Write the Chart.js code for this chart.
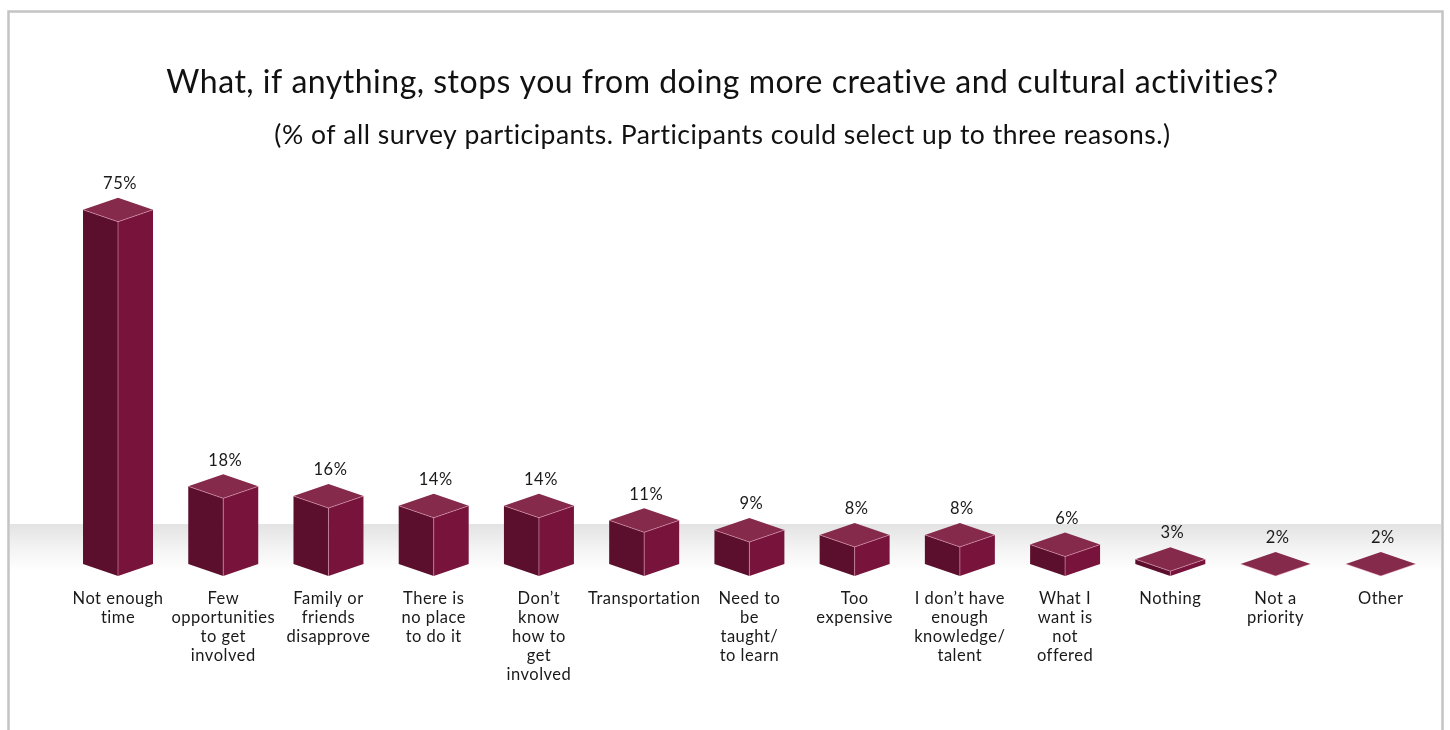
<!DOCTYPE html>
<html><head><meta charset="utf-8">
<script src="https://cdn.jsdelivr.net/npm/chart.js@4.4.1/dist/chart.umd.min.js"></script>
<style>html,body{margin:0;padding:0;background:#fff;overflow:hidden;}</style>
</head><body>
<canvas id="c" width="1450" height="730"></canvas>
<script>
const titleText = 'What, if anything, stops you from doing more creative and cultural activities?';
const subtitleText = '(% of all survey participants. Participants could select up to three reasons.)';
const categories = [
  ['Not enough', 'time'],
  ['Few', 'opportunities', 'to get', 'involved'],
  ['Family or', 'friends', 'disapprove'],
  ['There is', 'no place', 'to do it'],
  ['Don\u2019t', 'know', 'how to', 'get', 'involved'],
  ['Transportation'],
  ['Need to', 'be', 'taught/', 'to learn'],
  ['Too', 'expensive'],
  ['I don\u2019t have', 'enough', 'knowledge/', 'talent'],
  ['What I', 'want is', 'not', 'offered'],
  ['Nothing'],
  ['Not a', 'priority'],
  ['Other']
];
const values = [75, 18, 16, 14, 14, 11, 9, 8, 8, 6, 3, 2, 2];
const axisMin = 2;
const axisMax = 85;

const FONT = 'Lato, "Noto Sans", sans-serif';

function poly(ctx, pts, fill) {
  ctx.beginPath();
  ctx.moveTo(pts[0][0], pts[0][1]);
  for (let k = 1; k < pts.length; k++) ctx.lineTo(pts[k][0], pts[k][1]);
  ctx.closePath();
  ctx.fillStyle = fill;
  ctx.fill();
}

const deco = {
  id: 'deco',
  beforeDraw(chart) {
    const ctx = chart.ctx;
    try { ctx.letterSpacing = '0.5px'; } catch (e) {}
    ctx.save();
    ctx.fillStyle = '#ffffff';
    ctx.fillRect(0, 0, chart.width, chart.height);
    ctx.strokeStyle = '#c4c4c4';
    ctx.lineWidth = 2.5;
    ctx.beginPath();
    ctx.moveTo(8.5, 760);
    ctx.lineTo(8.5, 11.5);
    ctx.lineTo(1442.5, 11.5);
    ctx.lineTo(1442.5, 760);
    ctx.stroke();
    ctx.restore();
  },
  beforeDatasetsDraw(chart) {
    const ctx = chart.ctx;
    const yb = chart.scales.y.getPixelForValue(axisMin);
    const top = yb - 52, bot = yb - 4;
    ctx.save();
    const g = ctx.createLinearGradient(0, top, 0, bot);
    g.addColorStop(0, '#e3e3e3');
    g.addColorStop(0.5, '#f3f3f3');
    g.addColorStop(1, '#ffffff');
    ctx.fillStyle = g;
    ctx.fillRect(10, top, 1431, bot - top);
    ctx.restore();
  },
  afterDatasetsDraw(chart) {
    const ctx = chart.ctx;
    const meta = chart.getDatasetMeta(0);
    ctx.save();
    meta.data.forEach((el, i) => {
      const p = el.getProps(['x', 'y', 'base', 'width'], true);
      const x = p.x, y = p.y, b = p.base, hw = p.width / 2, d = hw * 0.343;
      poly(ctx, [[x - hw, y - d], [x, y], [x, b], [x - hw, b - d]], '#5b0f2d');
      poly(ctx, [[x, y], [x + hw, y - d], [x + hw, b - d], [x, b]], '#78133b');
      poly(ctx, [[x, y], [x - hw, y - d], [x, y - 2 * d], [x + hw, y - d]], '#852a4b');
      ctx.strokeStyle = 'rgba(255,190,215,0.45)';
      ctx.lineWidth = 1;
      ctx.beginPath();
      ctx.moveTo(x - hw, y - d); ctx.lineTo(x, y); ctx.lineTo(x + hw, y - d);
      if (b - y > 1) { ctx.moveTo(x, y); ctx.lineTo(x, b); }
      ctx.stroke();
      ctx.fillStyle = '#1a1a1a';
      ctx.font = '16.5px ' + FONT;
      ctx.textAlign = 'center';
      ctx.textBaseline = 'middle';
      ctx.fillText(values[i] + '%', x + 2, y - 2 * d - 14);
    });
    ctx.restore();
  }
};

new Chart(document.getElementById('c'), {
  type: 'bar',
  data: {
    labels: categories,
    datasets: [{
      data: values,
      base: axisMin,
      backgroundColor: 'rgba(0,0,0,0)',
      borderWidth: 0,
      barPercentage: 0.665,
      categoryPercentage: 1
    }]
  },
  options: {
    responsive: false,
    animation: false,
    devicePixelRatio: 1,
    layout: { padding: { left: 0, right: 5, top: 0, bottom: 0 } },
    plugins: {
      legend: { display: false },
      tooltip: { enabled: false },
      title: {
        display: true, text: titleText, color: '#111111',
        font: { family: FONT, size: 32, weight: 'normal', lineHeight: 1.2 },
        padding: { top: 63.8, bottom: 0 }
      },
      subtitle: {
        display: true, text: subtitleText, color: '#111111',
        font: { family: FONT, size: 26.5, weight: 'normal', lineHeight: 1.2 },
        padding: { top: 17, bottom: 22.2 }
      }
    },
    scales: {
      x: {
        grid: { display: false, drawTicks: false },
        border: { display: false },
        ticks: {
          color: '#1a1a1a', autoSkip: false, maxRotation: 0, padding: 13,
          font: { family: FONT, size: 16.5, lineHeight: 1.15 }
        },
        afterFit: s => { s.height = 154; }
      },
      y: {
        min: axisMin, max: axisMax,
        grid: { display: false, drawTicks: false },
        border: { display: false },
        ticks: { display: false },
        afterFit: s => { s.width = 65.4; }
      },
      y2: {
        position: 'right',
        grid: { display: false, drawTicks: false },
        border: { display: false },
        ticks: { display: false },
        afterFit: s => { s.width = 11.6; }
      }
    }
  },
  plugins: [deco]
});
</script>
</body></html>
